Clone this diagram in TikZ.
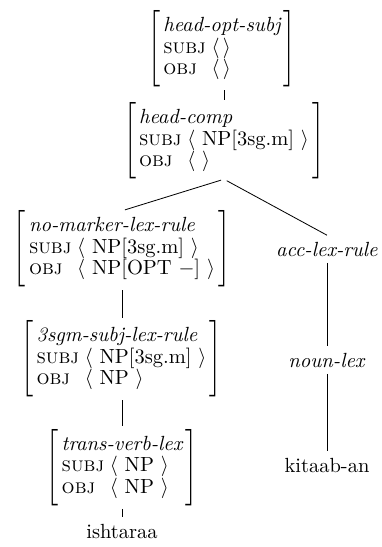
\documentclass[tikz,border=0pt]{standalone}
\usepackage{graphicx}
\newcommand\avmL{\vcenter{\hbox{\resizebox*{\width}{37.3pt}{$\Biggl[$}}}}
\newcommand\avmR{\vcenter{\hbox{\resizebox*{\width}{37.3pt}{$\Biggr]$}}}}
\newcommand\avmbox[3]{$\avmL\kern1.5pt\renewcommand\arraystretch{0.85}\begin{array}{@{}l@{\;}l@{}}\multicolumn{2}{@{}l@{}}{\textit{#1}}\\ \mbox{\textsc{subj}} & #2\\ \mbox{\textsc{obj}} & #3\end{array}\kern1.5pt\avmR$}
\begin{document}
\begin{tikzpicture}[x=0.488pt,y=-0.488pt,
  avm/.style={inner sep=0pt, outer sep=0pt},
  lbl/.style={inner sep=3pt},
  edge/.style={line width=0.4pt},
  aedge/.style={edge, shorten <=1.5pt, shorten >=1.5pt}]
\useasboundingbox (0,0) rectangle (382,547);
\node[avm] (n1) at (222,49) {\avmbox{head-opt-subj}{\langle\,\rangle}{\langle\,\rangle}};
\node[avm] (n2) at (224,141) {\avmbox{head-comp}{\langle\ \mbox{NP[3sg.m]}\ \rangle}{\langle\ \rangle}};
\node[avm] (n3) at (122,249) {\avmbox{no-marker-lex-rule}{\langle\ \mbox{NP[3sg.m]}\ \rangle}{\langle\ \mbox{NP[OPT $-$]}\ \rangle}};
\node[lbl] (acc) at (327,249) {\textit{acc-lex-rule}};
\node[avm] (n4) at (121.5,359) {\avmbox{3sgm-subj-lex-rule}{\langle\ \mbox{NP[3sg.m]}\ \rangle}{\langle\ \mbox{NP}\ \rangle}};
\node[lbl] (noun) at (327,360) {\textit{noun-lex}};
\node[avm] (n5) at (122,467.5) {\avmbox{trans-verb-lex}{\langle\ \mbox{NP}\ \rangle}{\langle\ \mbox{NP}\ \rangle}};
\node[lbl] (kit) at (327,465) {kitaab-an};
\node[lbl] (ish) at (122,531) {ishtaraa};
\draw[aedge] (n1.south -| n2.north) -- (n2.north);
\draw[aedge] (n2.south) -- (n3.north);
\draw[edge, shorten <=1.5pt] (n2.south) -- (acc.north);
\draw[edge] (acc.south) -- (noun.north);
\draw[edge] (noun.south) -- (kit.north);
\draw[aedge] (n3.south) -- (n3.south |- n4.north);
\draw[aedge] (n4.south -| n3.south) -- (n3.south |- n5.north);
\draw[edge, shorten <=1.5pt] (n5.south) -- (n5.south |- ish.north);
\end{tikzpicture}
\end{document}
